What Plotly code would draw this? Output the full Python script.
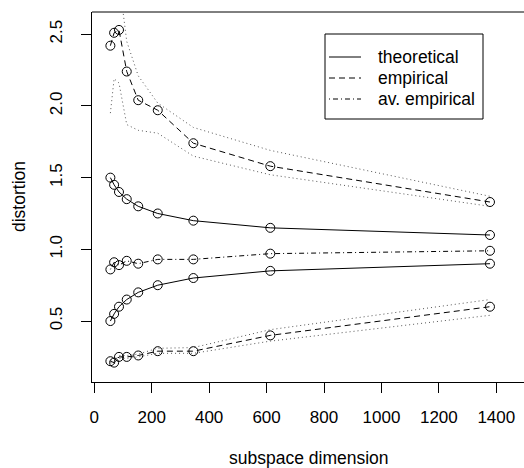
import plotly.graph_objects as go

# subspace dimensions (x)
dims = [56, 69, 86, 113, 153, 221, 345, 613, 1378]

# theoretical bounds
theo_upper = [1.50, 1.45, 1.40, 1.35, 1.30, 1.25, 1.20, 1.15, 1.10]
theo_lower = [0.50, 0.55, 0.60, 0.65, 0.70, 0.75, 0.80, 0.85, 0.90]

# empirical extremes
emp_upper = [2.42, 2.51, 2.53, 2.24, 2.04, 1.97, 1.74, 1.58, 1.33]
emp_lower = [0.22, 0.21, 0.25, 0.25, 0.26, 0.29, 0.29, 0.40, 0.60]

# average empirical
av_emp = [0.86, 0.91, 0.89, 0.92, 0.90, 0.93, 0.93, 0.97, 0.99]

# dotted bands around empirical extremes
emp_upper_hi = [3.30, 3.40, 2.88, 2.45, 2.21, 2.02, 1.85, 1.69, 1.37]
emp_upper_lo = [1.95, 2.19, 2.16, 1.87, 1.83, 1.81, 1.65, 1.52, 1.30]
emp_lower_hi = [0.23, 0.22, 0.26, 0.26, 0.27, 0.31, 0.315, 0.44, 0.65]
emp_lower_lo = [0.21, 0.20, 0.24, 0.24, 0.25, 0.275, 0.275, 0.36, 0.54]

x_ticks = [0, 200, 400, 600, 800, 1000, 1200, 1400]
y_ticks = [0.5, 1.0, 1.5, 2.0, 2.5]
y_ticktext = ["0.5", "1.0", "1.5", "2.0", "2.5"]

legend_names = ["theoretical", "empirical", "av. empirical"]

FONT = "Liberation Sans, Arial, Helvetica, sans-serif"
FS = 17
FS_TXT = 17.5
DASH = "6px,4px"
DOTDASH = "1px,3px,5px,3px"
DOT = "1px,3px"
legend_dashes = ["solid", DASH, DOTDASH]

W, H = 524, 468
ML, MR, MT, MB = 92, 0, 12, 86
PW, PH = W - ML - MR, H - MT - MB


def px(xp):
    return (xp - ML) / PW


def py(yp):
    return (H - MB - yp) / PH


fig = go.Figure()

for band in [emp_upper_hi, emp_upper_lo, emp_lower_hi, emp_lower_lo]:
    fig.add_trace(go.Scatter(x=dims, y=band, mode="lines", showlegend=False,
                             line=dict(color="#555555", width=1, dash=DOT),
                             hoverinfo="skip"))

marker = dict(symbol="circle-open", size=9, color="black", line=dict(width=1, color="black"))

for ys in [theo_upper, theo_lower]:
    fig.add_trace(go.Scatter(x=dims, y=ys, mode="lines+markers", showlegend=False,
                             line=dict(color="black", width=1), marker=marker))
for ys in [emp_upper, emp_lower]:
    fig.add_trace(go.Scatter(x=dims, y=ys, mode="lines+markers", showlegend=False,
                             line=dict(color="black", width=1, dash=DASH), marker=marker))
fig.add_trace(go.Scatter(x=dims, y=av_emp, mode="lines+markers", showlegend=False,
                         line=dict(color="black", width=1, dash=DOTDASH), marker=marker))

# legend box (R style) built from shapes + text
shapes = [
    dict(type="line", xref="paper", yref="paper", x0=0, x1=1, y0=1, y1=1,
         line=dict(color="black", width=1)),
    dict(type="rect", xref="paper", yref="paper", x0=px(325), x1=px(483),
         y0=py(119), y1=py(34), line=dict(color="black", width=1), fillcolor="white"),
]
annotations = [
    dict(text="subspace dimension", xref="paper", yref="paper", x=px(309), y=py(458),
         xanchor="center", yanchor="middle", showarrow=False,
         font=dict(family=FONT, size=FS_TXT)),
    dict(text="distortion", xref="paper", yref="paper", x=px(19), y=0.5,
         xanchor="center", yanchor="middle", textangle=-90, showarrow=False,
         font=dict(family=FONT, size=FS_TXT)),
]
row_y = [57, 78, 99]
for name, dash, ry in zip(legend_names, legend_dashes, row_y):
    shapes.append(dict(type="line", xref="paper", yref="paper", x0=px(329), x1=px(361),
                       y0=py(ry), y1=py(ry), line=dict(color="black", width=1, dash=dash)))
    annotations.append(dict(text=name, xref="paper", yref="paper", x=px(376), y=py(ry),
                            xanchor="left", yanchor="middle", showarrow=False,
                            font=dict(family=FONT, size=FS_TXT)))

fig.update_layout(
    width=W, height=H,
    margin=dict(l=ML, r=MR, t=MT, b=MB),
    paper_bgcolor="white", plot_bgcolor="white",
    font=dict(family=FONT, size=FS, color="black"),
    showlegend=False,
    xaxis=dict(range=[-8, 1496.5], tickvals=x_ticks, ticks="outside", ticklen=10,
               tickcolor="black", tickwidth=1, showline=True, linecolor="black",
               linewidth=1, showgrid=False, zeroline=False, mirror=False,
               ticklabelstandoff=10, tickfont=dict(family=FONT, size=FS)),
    yaxis=dict(range=[0.075, 2.655], tickvals=y_ticks, ticktext=y_ticktext,
               tickangle=-90, ticks="outside", ticklen=10, tickcolor="black",
               tickwidth=1, showline=True, linecolor="black", linewidth=1,
               showgrid=False, zeroline=False, mirror=False,
               ticklabelstandoff=12, tickfont=dict(family=FONT, size=FS)),
    shapes=shapes,
    annotations=annotations,
)

fig.write_html("out.html")
